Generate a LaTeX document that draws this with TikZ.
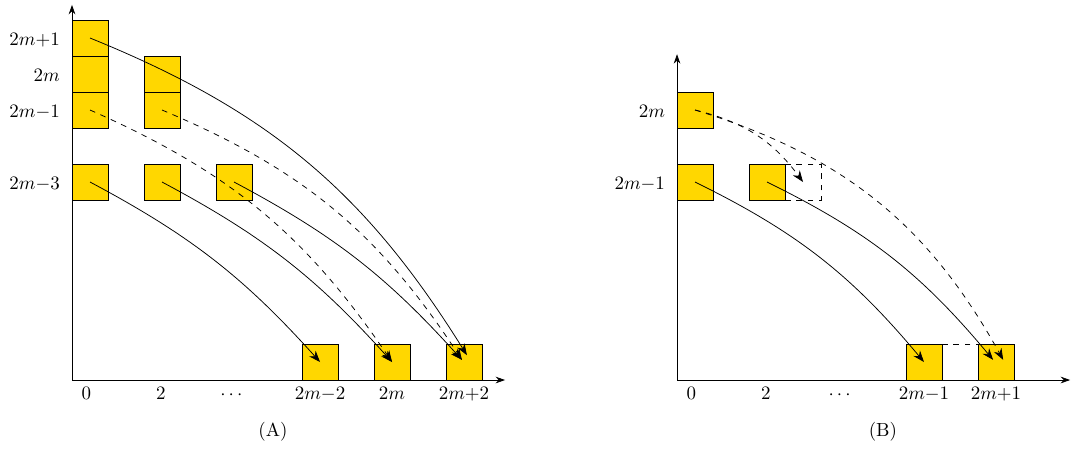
\documentclass[tikz,border=0pt]{standalone}
\usepackage{amsmath}
\usetikzlibrary{arrows.meta}
\definecolor{cellgold}{RGB}{255,215,0}
\tikzset{
  cell/.style={draw, fill=cellgold, minimum size=0.6667cm, inner sep=0pt, outer sep=0pt},
  ghost/.style={draw, dashed, minimum size=0.6667cm, inner sep=0pt, outer sep=0pt},
  flow/.style={-{Stealth[length=6pt,width=4.5pt]}},
  axis/.style={-{Stealth[length=5pt,width=3.5pt]}},
  ylab/.style={anchor=base east},
  xlab/.style={anchor=base},
}
\begin{document}
\begin{tikzpicture}[x=0.6667cm,y=0.6667cm]
  \useasboundingbox (-2,-1.944) rectangle (27.75,10.556);
  % (A)
  \coordinate (oA) at (0,0);
  \coordinate (yA) at (0,10.42);
  \coordinate (xA) at (12.03,0);
  \draw[axis] (oA) -- (yA);
  \draw[axis] (oA) -- (xA);
  \foreach \r/\y in {p1/9.5,z/8.5,m1/7.5,m3/5.5}
    \node[cell] (A0\r) at (0.5,\y) {};
  \foreach \r/\y in {z/8.5,m1/7.5,m3/5.5}
    \node[cell] (A2\r) at (2.5,\y) {};
  \node[cell] (A4m3) at (4.5,5.5) {};
  \node[cell] (Abm2) at (6.89,0.5) {};
  \node[cell] (Abz)  at (8.89,0.5) {};
  \node[cell] (Abp2) at (10.89,0.5) {};
  \node[ylab] (lAp1) at (-0.15,9.28) {$2m{+}1$};
  \node[ylab] (lAz)  at (-0.15,8.3) {$2m$};
  \node[ylab] (lAm1) at (-0.15,7.3) {$2m{-}1$};
  \node[ylab] (lAm3) at (-0.15,5.3) {$2m{-}3$};
  \foreach \n/\x/\t in {0/0.4/$0$,2/2.47/$2$,d/4.47/$\cdots$,m2/6.89/$2m{-}2$,z/8.89/$2m$,p2/10.89/$2m{+}2$}
    \node[xlab] (xA\n) at (\x,-0.53) {\t};
  \draw[flow] (A0p1.center) to[bend left=18] ([shift={(0.08,0.19)}]Abp2.center);
  \draw[flow,dashed] (A0m1.center) to[bend left=16] (Abz.center);
  \draw[flow,dashed] (A2m1.center) to[bend left=17] ([shift={(-0.06,0.06)}]Abp2.center);
  \draw[flow] (A0m3.center) to[bend left=10] (Abm2.center);
  \draw[flow] (A2m3.center) to[bend left=10] (Abz.center);
  \draw[flow] (A4m3.center) to[bend left=10] ([shift={(-0.06,0.06)}]Abp2.center);
  \node (capA) at (5.58,-1.44) {(A)};
  % (B)
  \begin{scope}[shift={(16.806,0)}]
    \coordinate (oB) at (0,0);
    \coordinate (yB) at (0,9.05);
    \coordinate (xB) at (10.92,0);
    \draw[axis] (oB) -- (yB);
    \draw[axis] (oB) -- (xB);
    \node[ghost] (B3m1) at (3.5,5.5) {};
    \node[ghost] (Bgap) at (7.86,0.5) {};
    \node[cell] (B0z)  at (0.5,7.5) {};
    \node[cell] (B0m1) at (0.5,5.5) {};
    \node[cell] (B2m1) at (2.5,5.5) {};
    \node[cell] (Bbm1) at (6.86,0.5) {};
    \node[cell] (Bbp1) at (8.86,0.5) {};
    \node[ylab] (lBz)  at (-0.15,7.3) {$2m$};
    \node[ylab] (lBm1) at (-0.15,5.3) {$2m{-}1$};
    \foreach \n/\x/\t in {0/0.4/$0$,2/2.47/$2$,d/4.56/$\cdots$,m1/6.86/$2m{-}1$,p1/8.86/$2m{+}1$}
      \node[xlab] (xB\n) at (\x,-0.53) {\t};
    \draw[flow,dashed] (B0z.center) to[bend left=20] (B3m1.center);
    \draw[flow,dashed] (B0z.center) to[bend left=22] ([shift={(0.2,0.06)}]Bbp1.center);
    \draw[flow] (B0m1.center) to[bend left=12] (Bbm1.center);
    \draw[flow] (B2m1.center) to[bend left=12] ([shift={(-0.08,0.06)}]Bbp1.center);
    \node (capB) at (5.72,-1.44) {(B)};
  \end{scope}
\end{tikzpicture}
\end{document}
